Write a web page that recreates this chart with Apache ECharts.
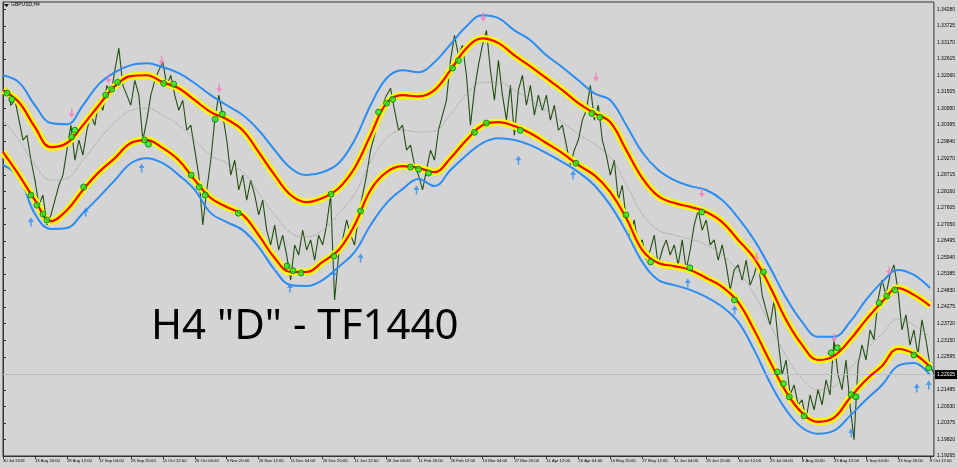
<!DOCTYPE html>
<html>
<head>
<meta charset="utf-8">
<script src="https://cdn.jsdelivr.net/npm/echarts@6.0.0/dist/echarts.min.js"></script>
<style>
  html, body { margin: 0; padding: 0; background: #d4d4d4; }
  #chart { width: 958px; height: 467px; }
</style>
</head>
<body>
<div id="chart"></div>
<script>
// time axis: one slot per 8 H4 bars, a date label every 8 slots
const dateLabels = ['30 Jul 2018', '13 Aug 20:00', '28 Aug 12:00', '12 Sep 04:00', '26 Sep 20:00',
  '11 Oct 12:00', '26 Oct 04:00', '9 Nov 20:00', '26 Nov 12:00', '11 Dec 04:00', '26 Dec 20:00',
  '11 Jan 12:00', '28 Jan 04:00', '11 Feb 20:00', '26 Feb 12:00', '13 Mar 04:00', '27 Mar 20:00',
  '11 Apr 12:00', '26 Apr 04:00', '10 May 20:00', '27 May 12:00', '11 Jun 04:00', '25 Jun 20:00',
  '10 Jul 12:00', '25 Jul 04:00', '8 Aug 20:00', '23 Aug 12:00', '9 Sep 04:00', '23 Sep 20:00', '8 Oct 12:00']
const labelEvery = 8

const priceTicks = [1.34280, 1.33725, 1.33170, 1.32615, 1.32060, 1.31505, 1.30950, 1.30395, 1.29840,
  1.29270, 1.28715, 1.28160, 1.27605, 1.27050, 1.26495, 1.25940, 1.25385, 1.24830, 1.24275, 1.23720,
  1.23150, 1.22595, 1.21485, 1.20930, 1.20375, 1.19820, 1.19265]
const lastPrice = 1.22025

// GBPUSD close, one value per slot
const close = [
  1.3140, 1.3163, 1.3106, 1.3123, 1.3056, 1.2989, 1.3005, 1.2921,
  1.2854, 1.2770, 1.2804, 1.2703, 1.2737, 1.2787, 1.2837, 1.2871,
  1.2955, 1.3039, 1.2921, 1.2989, 1.2938, 1.3022, 1.3073, 1.3039,
  1.3123, 1.3089, 1.3173, 1.3140, 1.3224, 1.3298, 1.3173, 1.3140,
  1.3106, 1.3190, 1.3140, 1.2989, 1.3056, 1.3140, 1.3190, 1.3224,
  1.3251, 1.3173, 1.3207, 1.3140, 1.3089, 1.3123, 1.3022, 1.3039,
  1.2955, 1.2871, 1.2703, 1.2821, 1.2921, 1.3056, 1.3140, 1.3073,
  1.2989, 1.2871, 1.2921, 1.2821, 1.2871, 1.2787, 1.2854, 1.2804,
  1.2737, 1.2787, 1.2686, 1.2636, 1.2703, 1.2619, 1.2669, 1.2602,
  1.2518, 1.2636, 1.2602, 1.2686, 1.2619, 1.2653, 1.2585, 1.2669,
  1.2636, 1.2703, 1.2804, 1.2451, 1.2602, 1.2653, 1.2720, 1.2669,
  1.2636, 1.2737, 1.2804, 1.2871, 1.2955, 1.3005, 1.3073, 1.3106,
  1.3140, 1.3163, 1.3089, 1.3022, 1.3039, 1.2955, 1.2972, 1.2905,
  1.2871, 1.2821, 1.2888, 1.2955, 1.2921, 1.3022, 1.3073, 1.3123,
  1.3257, 1.3341, 1.3274, 1.3308, 1.3207, 1.3039, 1.3157, 1.3241,
  1.3308, 1.3358, 1.3224, 1.3123, 1.3257, 1.3140, 1.3056, 1.3173,
  1.3005, 1.3157, 1.3207, 1.3106, 1.3173, 1.3073, 1.3140, 1.3089,
  1.3140, 1.3056, 1.3106, 1.3022, 1.3039, 1.2972, 1.2905, 1.2955,
  1.2989, 1.3056, 1.3089, 1.3173, 1.3056, 1.3106, 1.2989, 1.2938,
  1.2871, 1.2921, 1.2787, 1.2837, 1.2720, 1.2669, 1.2720, 1.2636,
  1.2653, 1.2585, 1.2619, 1.2669, 1.2569, 1.2619, 1.2653, 1.2602,
  1.2636, 1.2569, 1.2653, 1.2552, 1.2619, 1.2703, 1.2753, 1.2686,
  1.2720, 1.2636, 1.2653, 1.2585, 1.2636, 1.2569, 1.2485, 1.2552,
  1.2569, 1.2518, 1.2585, 1.2501, 1.2535, 1.2585, 1.2468, 1.2417,
  1.2367, 1.2451, 1.2317, 1.2199, 1.2249, 1.2132, 1.2165, 1.2098,
  1.2115, 1.2048, 1.2132, 1.2081, 1.2149, 1.2098, 1.2182, 1.2132,
  1.2317, 1.2199, 1.2149, 1.2249, 1.2098, 1.1981, 1.2233, 1.2300,
  1.2249, 1.2350, 1.2317, 1.2451, 1.2518, 1.2468, 1.2535, 1.2569,
  1.2485, 1.2350, 1.2401, 1.2300, 1.2350, 1.2266, 1.2384, 1.2317,
  1.2233, 1.2203
]

// band lines, one value every 4 slots
const bandStep = 4
const upperBlue = [
  1.3207, 1.3183, 1.3106, 1.3046, 1.3042, 1.3106, 1.3177, 1.3217, 1.3241, 1.3247,
  1.3234, 1.3214, 1.3180, 1.3140, 1.3106, 1.3073, 1.3022, 1.2955, 1.2895, 1.2871,
  1.2881, 1.2911, 1.2989, 1.3106, 1.3197, 1.3224, 1.3217, 1.3251, 1.3311, 1.3372,
  1.3409, 1.3399, 1.3358, 1.3325, 1.3274, 1.3234, 1.3190, 1.3146, 1.3123, 1.3039,
  1.2948, 1.2888, 1.2854, 1.2834, 1.2821, 1.2787, 1.2727, 1.2653, 1.2559, 1.2458,
  1.2377, 1.2327, 1.2327, 1.2377, 1.2451, 1.2511, 1.2552, 1.2535, 1.2491
]
const upperBand = [
  1.3157, 1.3116, 1.3032, 1.2965, 1.2979, 1.3039, 1.3106, 1.3170, 1.3204, 1.3207,
  1.3183, 1.3163, 1.3123, 1.3083, 1.3059, 1.3022, 1.2948, 1.2871, 1.2804, 1.2780,
  1.2794, 1.2827, 1.2895, 1.3005, 1.3113, 1.3140, 1.3136, 1.3157, 1.3224, 1.3298,
  1.3331, 1.3315, 1.3274, 1.3237, 1.3197, 1.3157, 1.3113, 1.3079, 1.3049, 1.2955,
  1.2861, 1.2800, 1.2777, 1.2764, 1.2747, 1.2713, 1.2653, 1.2592, 1.2495, 1.2384,
  1.2300, 1.2249, 1.2263, 1.2317, 1.2384, 1.2444, 1.2491, 1.2468, 1.2431
]
const midLine = [
  1.3056, 1.2989, 1.2905, 1.2854, 1.2861, 1.2921, 1.2989, 1.3049, 1.3089, 1.3096,
  1.3073, 1.3039, 1.2989, 1.2938, 1.2911, 1.2881, 1.2811, 1.2737, 1.2676, 1.2663,
  1.2686, 1.2740, 1.2807, 1.2915, 1.2995, 1.3022, 1.3016, 1.3019, 1.3076, 1.3143,
  1.3183, 1.3183, 1.3157, 1.3123, 1.3089, 1.3049, 1.3009, 1.2975, 1.2931, 1.2841,
  1.2740, 1.2686, 1.2669, 1.2656, 1.2636, 1.2602, 1.2548, 1.2471, 1.2367, 1.2263,
  1.2186, 1.2149, 1.2159, 1.2219, 1.2283, 1.2337, 1.2387, 1.2367, 1.2327
]
const lowerBand = [
  1.2948, 1.2871, 1.2787, 1.2716, 1.2753, 1.2821, 1.2881, 1.2928, 1.2979, 1.2989,
  1.2962, 1.2921, 1.2854, 1.2794, 1.2764, 1.2737, 1.2669, 1.2592, 1.2545, 1.2545,
  1.2579, 1.2619, 1.2703, 1.2821, 1.2881, 1.2901, 1.2895, 1.2881, 1.2928, 1.2989,
  1.3039, 1.3049, 1.3036, 1.3012, 1.2979, 1.2945, 1.2905, 1.2871, 1.2814, 1.2726,
  1.2619, 1.2575, 1.2565, 1.2552, 1.2525, 1.2495, 1.2444, 1.2350, 1.2243, 1.2142,
  1.2071, 1.2041, 1.2055, 1.2122, 1.2182, 1.2229, 1.2286, 1.2270, 1.2226
]
const lowerBlue = [
  1.2905, 1.2864, 1.2740, 1.2690, 1.2693, 1.2743, 1.2797, 1.2854, 1.2911, 1.2928,
  1.2911, 1.2871, 1.2821, 1.2743, 1.2713, 1.2686, 1.2629, 1.2552, 1.2501, 1.2498,
  1.2518, 1.2562, 1.2612, 1.2703, 1.2777, 1.2824, 1.2858, 1.2834, 1.2888, 1.2938,
  1.2979, 1.2995, 1.2989, 1.2972, 1.2945, 1.2915, 1.2881, 1.2837, 1.2770, 1.2680,
  1.2579, 1.2518, 1.2501, 1.2485, 1.2461, 1.2428, 1.2377, 1.2283, 1.2172, 1.2081,
  1.2021, 1.2001, 1.2011, 1.2061, 1.2115, 1.2165, 1.2229, 1.2239, 1.2199
]

// signal marks: [slot, price]
const touchDots = [
  [1.0, 1.3147], [2.2, 1.3126], [7.0, 1.2804], [8.5, 1.2770], [10.0, 1.2740], [11.0, 1.2720],
  [17.2, 1.2999], [18.0, 1.3022], [20.2, 1.2831], [25.7, 1.3140], [27.2, 1.3160], [28.7, 1.3183],
  [35.4, 1.2989], [36.4, 1.2975], [40.2, 1.3180], [42.7, 1.3177], [47.1, 1.2871], [49.1, 1.2831],
  [50.6, 1.2804], [53.1, 1.3059], [54.9, 1.3076], [58.9, 1.2743], [71.1, 1.2565], [72.6, 1.2549],
  [74.6, 1.2542], [82.1, 1.2807], [82.8, 1.2599], [89.5, 1.2750], [94.0, 1.3083], [96.0, 1.3113],
  [97.5, 1.3126], [102.0, 1.2898], [104.0, 1.2891], [106.5, 1.2878], [112.5, 1.3231], [114.0, 1.3257],
  [118.0, 1.3015], [121.0, 1.3046], [129.5, 1.3022], [143.4, 1.2911], [147.4, 1.3079], [149.4, 1.3066],
  [155.9, 1.2737], [162.1, 1.2579], [171.9, 1.2559], [174.9, 1.2747], [183.1, 1.2451], [190.3, 1.2545],
  [193.8, 1.2209], [195.3, 1.2169], [196.8, 1.2125], [200.5, 1.2061], [207.3, 1.2273], [208.8, 1.2290],
  [212.3, 1.2132], [213.5, 1.2125], [219.3, 1.2441], [221.2, 1.2464], [223.2, 1.2485], [228.0, 1.2266],
  [231.7, 1.2223]
]
const sellArrows = [
  [17.2, 1.3079], [26.4, 1.3194], [39.7, 1.3257], [54.1, 1.3163], [120.2, 1.3402],
  [148.4, 1.3200], [174.9, 1.2811], [188.6, 1.2595], [208.0, 1.2323], [221.8, 1.2548]
]
const buyArrows = [
  [7.0, 1.2713], [20.7, 1.2747], [34.7, 1.2895], [71.8, 1.2491], [82.8, 1.2535], [89.5, 1.2592],
  [103.5, 1.2821], [129.0, 1.2921], [142.7, 1.2871], [171.4, 1.2508], [183.1, 1.2417],
  [212.3, 1.2004], [228.7, 1.2155], [231.7, 1.2165]
]

const chart = echarts.init(document.getElementById('chart'))

const bandPoints = arr => arr.map((v, i) => [i * bandStep, v])
const tickSlots = dateLabels.map((d, i) => i * labelEvery)

const bandLine = (data, color, width, z, extra) => Object.assign({
  type: 'line',
  data: bandPoints(data),
  smooth: 0.4,
  showSymbol: false,
  silent: true,
  z: z,
  lineStyle: { color: color, width: width }
}, extra || {})

const downArrow = 'path://M3,0 L5,0 L5,5 L8,5 L4,10 L0,5 L3,5 Z'
const upArrow = 'path://M4,0 L8,5 L5,5 L5,10 L3,10 L3,5 L0,5 Z'

const option = {
  animation: false,
  backgroundColor: '#d4d4d4',
  grid: {
    left: 1,
    right: 23,
    top: 2,
    bottom: 11,
    show: true,
    borderColor: '#333',
    borderWidth: 1
  },
  xAxis: {
    type: 'value',
    min: 0,
    max: close.length - 1,
    splitLine: { show: false },
    axisLine: { show: true, lineStyle: { color: '#333' } },
    axisTick: { show: true, customValues: tickSlots, length: 3, lineStyle: { color: '#333' } },
    axisLabel: {
      customValues: tickSlots,
      formatter: v => dateLabels[Math.round(v / labelEvery)],
      fontFamily: 'Liberation Sans',
      fontSize: 4.2,
      color: '#000',
      align: 'left',
      margin: 3
    }
  },
  yAxis: {
    type: 'value',
    position: 'right',
    min: 1.1926,
    max: 1.34534,
    splitLine: { show: false },
    axisLine: { show: true, lineStyle: { color: '#333' } },
    axisTick: { show: true, customValues: priceTicks, length: 3, lineStyle: { color: '#333' } },
    axisLabel: {
      customValues: priceTicks,
      formatter: v => v.toFixed(5),
      fontFamily: 'Liberation Sans',
      fontSize: 5,
      color: '#000',
      margin: 3
    }
  },
  graphic: [
    { type: 'polygon', shape: { points: [[4, 4], [9, 4], [6.5, 7]] }, style: { fill: '#000' } },
    { type: 'text', left: 11, top: 2, style: { text: 'GBPUSD,H4', font: '5px "Liberation Sans"', fill: '#000' } },
    { type: 'text', left: 151, top: 306, z: 10, style: { text: 'H4 "D" - TF1440', font: '42px "Noto Sans"', fill: '#000' } }
  ],
  series: [
    {
      type: 'line',
      data: close.map((v, i) => [i, v]),
      showSymbol: false,
      silent: true,
      z: 1,
      lineStyle: { color: '#244f12', width: 1.1 },
      markLine: {
        silent: true,
        symbol: 'none',
        data: [{ yAxis: lastPrice }],
        lineStyle: { color: '#bcbcbc', type: 'solid', width: 1 },
        label: {
          position: 'end',
          distance: 1,
          formatter: lastPrice.toFixed(5),
          backgroundColor: '#000',
          color: '#fff',
          fontFamily: 'Liberation Sans',
          fontSize: 5,
          padding: [2, 2]
        }
      }
    },
    bandLine(midLine, '#9a9a9a', 1, 2, { lineStyle: { color: '#9a9a9a', width: 1, type: 'dotted' } }),
    bandLine(upperBlue, '#2b8cf2', 2, 3),
    bandLine(lowerBlue, '#2b8cf2', 2, 3),
    bandLine(upperBand, '#ffff00', 7, 4),
    bandLine(lowerBand, '#ffff00', 7, 4),
    bandLine(upperBand, '#ff0000', 2.2, 5),
    bandLine(lowerBand, '#ff0000', 2.2, 5),
    {
      type: 'scatter',
      data: touchDots,
      symbol: 'circle',
      symbolSize: 6,
      silent: true,
      z: 6,
      itemStyle: { color: '#22ee22', borderColor: '#0b6e0b', borderWidth: 1 }
    },
    {
      type: 'scatter',
      data: sellArrows,
      symbol: downArrow,
      symbolSize: [6, 9],
      silent: true,
      z: 7,
      itemStyle: { color: '#f277c0' }
    },
    {
      type: 'scatter',
      data: buyArrows,
      symbol: upArrow,
      symbolSize: [6, 9],
      silent: true,
      z: 7,
      itemStyle: { color: '#2b8cf2' }
    }
  ]
}

chart.setOption(option)
</script>
</body>
</html>
